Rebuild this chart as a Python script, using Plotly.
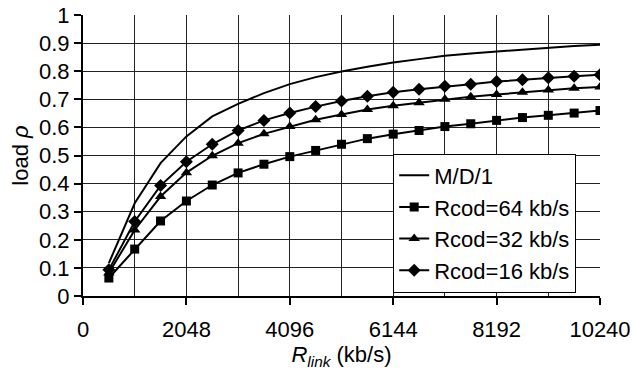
import plotly.graph_objects as go

# Data
r_link = [512, 1024, 1536, 2048, 2560, 3072, 3584, 4096, 4608, 5120,
          5632, 6144, 6656, 7168, 7680, 8192, 8704, 9216, 9728, 10240]
md1 = [0.117, 0.330, 0.473, 0.568, 0.639, 0.684, 0.722, 0.754, 0.779, 0.799,
       0.816, 0.831, 0.843, 0.855, 0.863, 0.870, 0.878, 0.885, 0.890, 0.894]
rcod64 = [0.064, 0.167, 0.267, 0.338, 0.395, 0.438, 0.469, 0.496, 0.518, 0.540,
          0.560, 0.576, 0.589, 0.603, 0.613, 0.625, 0.635, 0.643, 0.651, 0.660]
rcod32 = [0.082, 0.235, 0.354, 0.439, 0.499, 0.544, 0.577, 0.603, 0.627, 0.646,
          0.664, 0.677, 0.688, 0.700, 0.709, 0.717, 0.725, 0.733, 0.739, 0.744]
rcod16 = [0.093, 0.265, 0.393, 0.478, 0.540, 0.589, 0.625, 0.651, 0.674, 0.694,
          0.711, 0.725, 0.736, 0.746, 0.754, 0.763, 0.770, 0.777, 0.782, 0.787]

x_tickvals = [0, 2048, 4096, 6144, 8192, 10240]
x_ticktext = ["0", "2048", "4096", "6144", "8192", "10240"]

FONT = "Liberation Sans, Arial, sans-serif"

fig = go.Figure()
fig.add_trace(go.Scatter(x=r_link, y=md1, name="M/D/1", mode="lines",
                         line=dict(color="black", width=2)))
fig.add_trace(go.Scatter(x=r_link, y=rcod64, name="Rcod=64 kb/s", mode="lines+markers",
                         line=dict(color="black", width=2),
                         marker=dict(symbol="square", size=9, color="black")))
fig.add_trace(go.Scatter(x=r_link, y=rcod32, name="Rcod=32 kb/s", mode="lines+markers",
                         line=dict(color="black", width=2),
                         marker=dict(symbol="triangle-up", size=10, color="black")))
fig.add_trace(go.Scatter(x=r_link, y=rcod16, name="Rcod=16 kb/s", mode="lines+markers",
                         line=dict(color="black", width=2),
                         marker=dict(symbol="diamond", size=10, color="black")))

fig.update_layout(
    width=632, height=370,
    margin=dict(l=83, r=32, t=15, b=74),
    paper_bgcolor="white", plot_bgcolor="white",
    font=dict(family=FONT, size=22, color="black"),
    showlegend=True,
    legend=dict(x=0.6, y=0.507, xanchor="left", yanchor="top",
                bgcolor="white", bordercolor="black", borderwidth=1,
                font=dict(family=FONT, size=22, color="black"),
                tracegroupgap=0, itemwidth=30),
    xaxis=dict(range=[0, 10240], tickvals=x_tickvals, ticktext=x_ticktext,
               automargin=False,
               showgrid=True, gridcolor="#222", gridwidth=1,
               minor=dict(dtick=1024, tick0=0, showgrid=True, gridcolor="#222", gridwidth=1),
               showline=True, linecolor="black", linewidth=2,
               ticks="outside", ticklen=7, tickwidth=2, tickcolor="black",
               ticklabelstandoff=6,
               zeroline=False,
               title=dict(text="<i>R</i><sub><i>link</i></sub> (kb/s)", standoff=0,
                          font=dict(family=FONT, size=22))),
    yaxis=dict(range=[0, 1], dtick=0.1, tick0=0,
               automargin=False,
               showgrid=True, gridcolor="#222", gridwidth=1,
               showline=True, linecolor="black", linewidth=2,
               ticks="outside", ticklen=7, tickwidth=2, tickcolor="black",
               zeroline=False,
               title=dict(text="load <i>ρ</i>", standoff=4,
                          font=dict(family=FONT, size=22))),
)

fig.write_html("out.html",
               config={"displayModeBar": False},
               post_script="document.body.style.margin='0';document.body.style.overflow='hidden';")
